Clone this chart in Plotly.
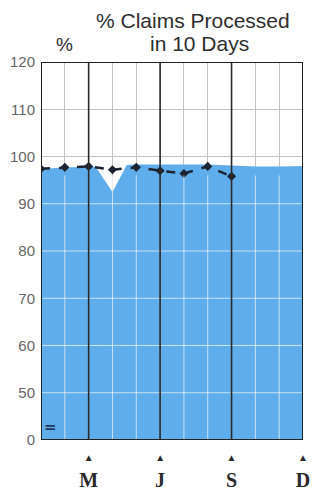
import plotly.graph_objects as go

# --- data ---
months = ["Jan", "Feb", "Mar", "Apr", "May", "Jun", "Jul", "Aug", "Sep", "Oct", "Nov", "Dec"]
month_pos = list(range(12))
line_values = [97.4, 97.7, 97.9, 97.2, 97.7, 97.0, 96.4, 97.9, 95.8]   # Jan..Sep
area_x = [0, 1, 2, 2.3, 3, 3.6, 4, 5, 6, 7, 8, 9, 10, 11]
area_values = [97.4, 97.7, 97.9, 97.8, 92.5, 98.2, 98.3, 98.3, 98.3, 98.3, 98.1, 97.9, 97.9, 98.0]
y_tickvals = [40, 50, 60, 70, 80, 90, 100, 110, 120]
y_ticktext = ["0", "50", "60", "70", "80", "90", "100", "110", "120"]
x_tickvals = [2, 5, 8, 11]
x_ticklabels = ["M", "J", "S", "D"]

fill_color = "#5fadea"
grid_color = "#c4c4c4"

fig = go.Figure()
fig.add_trace(go.Scatter(
    x=area_x, y=area_values, mode="lines", fill="tozeroy",
    line=dict(color=fill_color, width=0), fillcolor=fill_color,
    hoverinfo="skip", showlegend=False))
fig.add_trace(go.Scatter(
    x=month_pos[:len(line_values)], y=line_values, mode="lines+markers",
    line=dict(color="#1b2430", width=2.5, dash="dash"),
    marker=dict(symbol="diamond", size=7, color="#1b2430"),
    showlegend=False))

shapes = []
# light grid lines over the blue fill
for xv in [1, 3, 4, 6, 7, 9, 10]:
    shapes.append(dict(type="line", xref="x", yref="y", x0=xv, x1=xv, y0=40, y1=96,
                       line=dict(color="rgba(255,255,255,0.65)", width=1), layer="above"))
for yv in [50, 60, 70, 80, 90]:
    shapes.append(dict(type="line", xref="x", yref="y", x0=0, x1=11, y0=yv, y1=yv,
                       line=dict(color="rgba(255,255,255,0.65)", width=1), layer="above"))
# heavy quarter lines
for xv in [2, 5, 8]:
    shapes.append(dict(type="line", xref="x", yref="y", x0=xv, x1=xv, y0=40, y1=120,
                       line=dict(color="#2b2b2b", width=1.6), layer="above"))
# frame
shapes.append(dict(type="rect", xref="x", yref="y", x0=0, x1=11, y0=40, y1=120,
                   line=dict(color="#222222", width=2), layer="above"))

title_font = dict(family="Liberation Sans", size=21, color="#2e2e2e")
# the page body has an 8px margin, so the figure is sized 310x486
fig.update_layout(
    width=310, height=486,
    margin=dict(l=33, r=15, t=54, b=54),
    paper_bgcolor="white", plot_bgcolor="white",
    shapes=shapes,
    annotations=[
        dict(text="% Claims Processed", x=0.58, y=1.0, xref="paper", yref="paper", yshift=42,
             xanchor="center", yanchor="middle", showarrow=False, font=title_font),
        dict(text="in 10 Days", x=0.605, y=1.0, xref="paper", yref="paper", yshift=19,
             xanchor="center", yanchor="middle", showarrow=False, font=title_font),
        dict(text="%", x=0.088, y=1.0, xref="paper", yref="paper", yshift=18,
             xanchor="center", yanchor="middle", showarrow=False,
             font=dict(family="Liberation Sans", size=19, color="#2e2e2e")),
        dict(text="<b>=</b>", xref="x", yref="y", x=0.4, y=42.7, showarrow=False,
             font=dict(family="DejaVu Sans", size=15, color="#1d3a5c")),
    ],
)

fig.update_xaxes(
    range=[0, 11], tickmode="array", tickvals=x_tickvals,
    ticktext=["<span style='font-size:10px'>▲</span><br><b>%s</b>" % t for t in x_ticklabels],
    tickfont=dict(family="Liberation Serif", size=20, color="#2a2a2a"),
    showgrid=True, gridcolor=grid_color, gridwidth=1,
    zeroline=False, showline=False, ticks="", ticklabelstandoff=0, automargin=False,
    minor=dict(tickvals=month_pos, showgrid=True, gridcolor=grid_color, gridwidth=1))
fig.update_yaxes(
    range=[40, 120], tickvals=y_tickvals, ticktext=y_ticktext,
    tickfont=dict(family="Liberation Sans", size=15, color="#666666"),
    showgrid=True, gridcolor=grid_color, gridwidth=1, zeroline=False, showline=False,
    ticks="", ticklabelstandoff=5, automargin=False)

fig.write_html("out.html")
